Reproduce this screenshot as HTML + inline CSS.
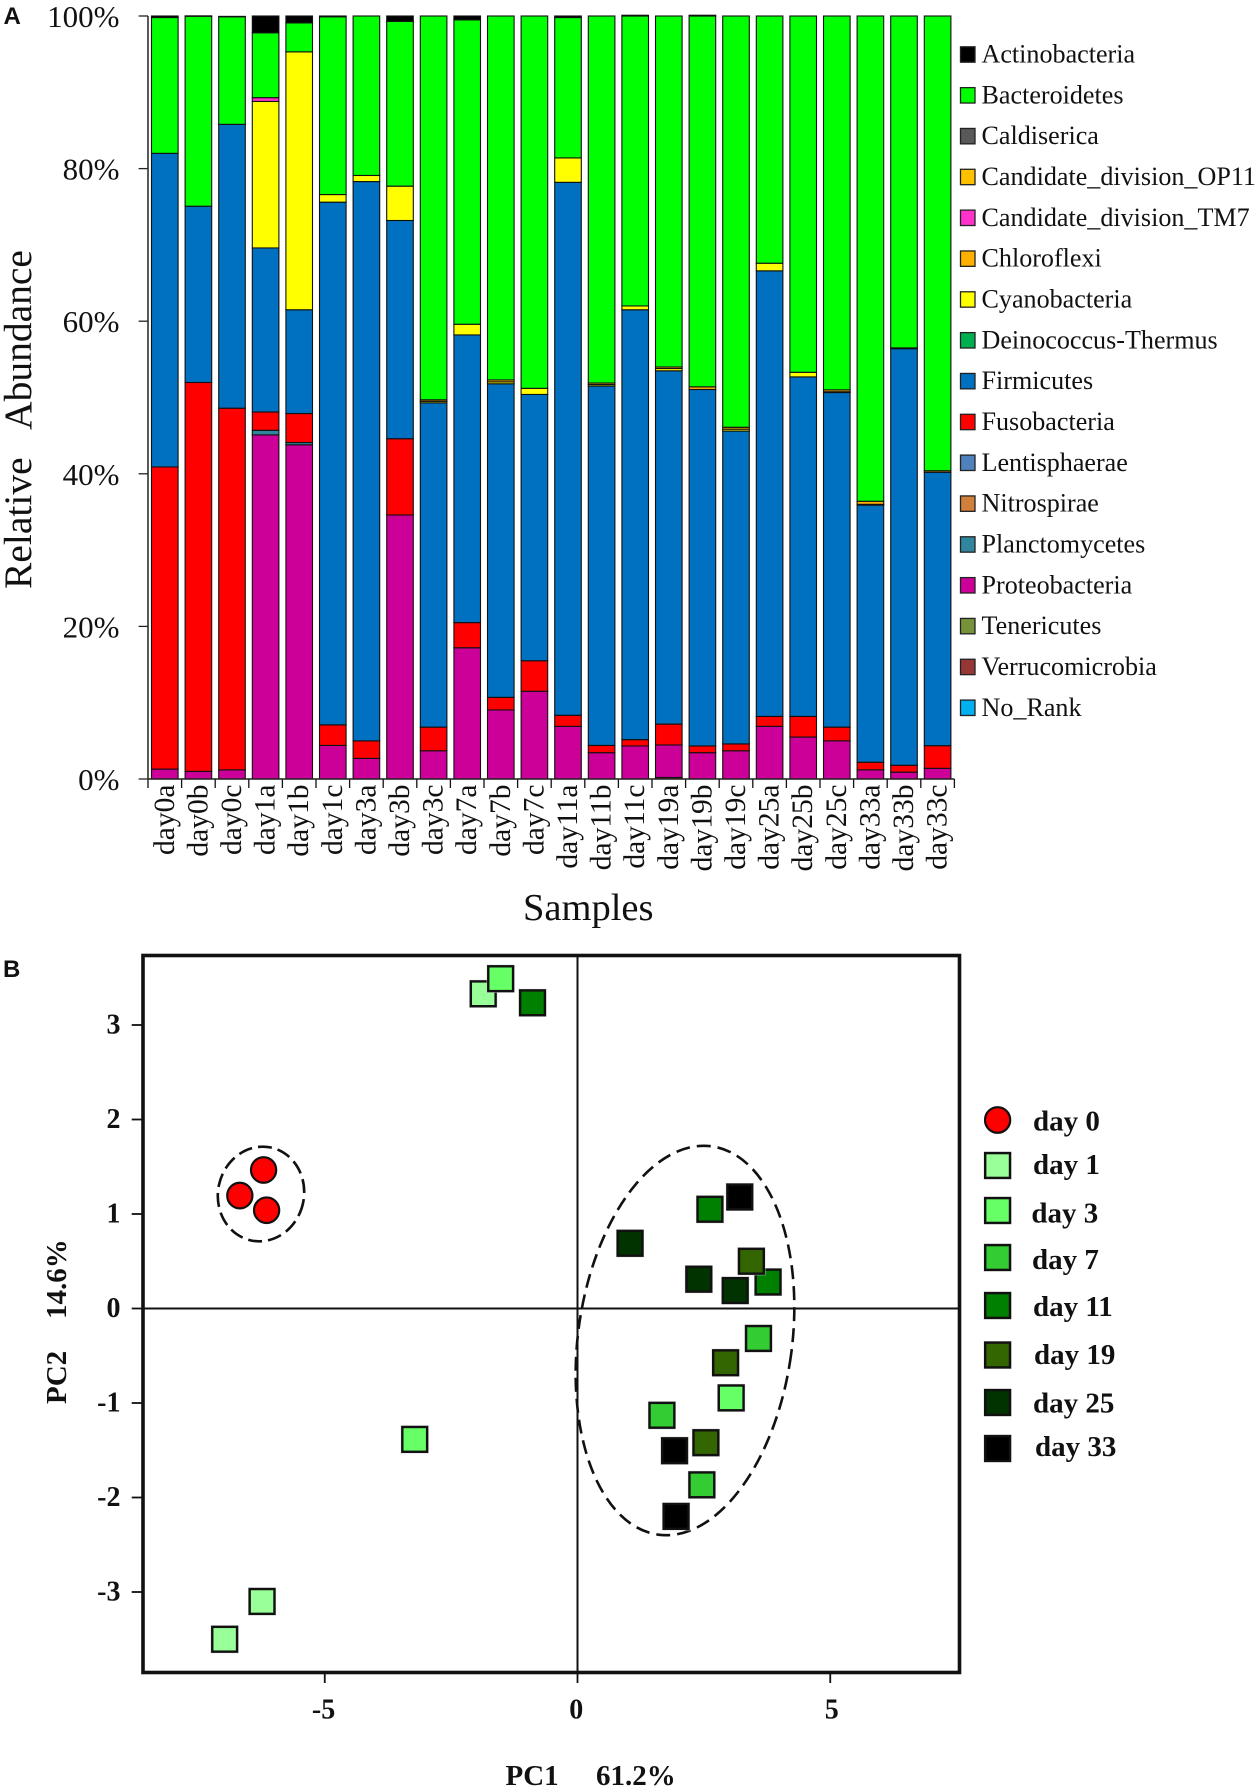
<!DOCTYPE html>
<html lang="en">
<head>
<meta charset="utf-8">
<title>Relative abundance and PCA</title>
<style>
html,body{margin:0;padding:0;background:#fff;}
svg{display:block;}
text{font-family:"Liberation Serif","Times New Roman",serif;fill:#111;}
.bold{font-weight:bold;}
</style>
</head>
<body>
<svg id="figure" xmlns="http://www.w3.org/2000/svg" width="1260" height="1791" viewBox="0 0 1260 1791">
  <rect width="1260" height="1791" fill="#fff"/>
  <text x="3.5" y="24" style="font-family:'Liberation Sans',sans-serif;font-weight:bold;font-size:24px">A</text>
  <text x="3" y="977" style="font-family:'Liberation Sans',sans-serif;font-weight:bold;font-size:24px">B</text>
  <g id="barChart"></g>
  <text transform="translate(31,589) rotate(-90)" font-size="39.5" xml:space="preserve" style="white-space:pre">Relative   Abundance</text>
  <text x="523" y="920" font-size="38.5">Samples</text>
  <g id="pcaChart"></g>
  <text class="bold" x="505.5" y="1785" font-size="29">PC1</text>
  <text class="bold" x="596" y="1785" font-size="29">61.2%</text>
  <text class="bold" transform="translate(66,1404) rotate(-90)" font-size="29">PC2</text>
  <text class="bold" transform="translate(66,1319) rotate(-90)" font-size="29">14.6%</text>
</svg>
<script>
// ---------- Panel A data ----------
const samples = ["day0a","day0b","day0c","day1a","day1b","day1c","day3a","day3b","day3c","day7a","day7b","day7c","day11a","day11b","day11c","day19a","day19b","day19c","day25a","day25b","day25c","day33a","day33b","day33c"];
const percentTicks = [0,20,40,60,80,100];
const actinobacteria = [0.2,0.05,0.05,2.2,0.9,0.1,0,0.7,0,0.5,0,0,0.2,0,0.1,0,0.1,0,0,0,0,0,0,0];
const bacteroidetes = [17.8,24.9,14.1,8.5,3.8,23.3,20.9,21.6,50.3,39.9,47.7,48.8,18.4,48.1,38.0,46.0,48.6,53.9,32.4,46.7,49.0,63.6,43.5,59.6];
const caldiserica = [0,0,0,0,0,0,0,0,0,0,0,0,0,0,0,0,0,0,0,0,0,0,0,0];
const candidateOP11 = [0,0,0,0,0,0,0,0,0,0,0,0,0,0,0,0,0,0,0,0,0,0,0,0];
const candidateTM7 = [0,0,0,0.5,0,0,0,0,0,0,0,0,0,0,0,0,0,0,0,0,0,0,0,0];
const chloroflexi = [0,0,0,0,0,0,0,0,0.2,0,0.25,0,0,0.2,0,0.2,0.35,0.25,0,0,0.25,0.4,0.1,0.2];
const cyanobacteria = [0,0,0,19.2,33.8,1.0,0.8,4.5,0.2,1.4,0.25,0.8,3.2,0.2,0.5,0.3,0,0.25,1.0,0.6,0.1,0.1,0,0];
const deinococcus = [0,0,0,0,0,0,0,0,0,0,0,0,0,0,0,0,0,0,0,0,0,0,0,0];
const firmicutes = [41.1,23.1,37.2,21.5,13.6,68.5,73.3,28.6,42.5,37.7,41.1,34.9,69.85,47.1,56.34,46.3,46.72,41.0,58.4,44.5,43.85,33.7,54.6,35.83];
const fusobacteria = [39.6,50.97,47.4,2.4,3.8,2.7,2.3,10.0,3.1,3.3,1.65,4.0,1.45,0.95,0.83,2.74,0.88,0.9,1.3,2.7,1.8,1.0,0.9,2.97];
const lentisphaerae = [0,0,0,0,0,0,0,0,0,0,0,0,0,0,0,0,0,0,0,0,0,0,0,0];
const nitrospirae = [0,0,0,0,0,0,0,0,0,0,0,0,0,0,0,0,0,0,0,0,0,0,0,0];
const planctomycetes = [0,0,0,0.6,0.3,0,0,0,0,0,0,0,0,0,0,0,0,0,0,0,0,0,0,0];
const proteobacteria = [1.3,1.0,1.2,45.1,43.8,4.4,2.7,34.6,3.7,17.2,9.05,11.5,6.9,3.45,4.33,4.26,3.45,3.7,6.9,5.5,5.0,1.2,0.9,1.4];
const tenericutes = [0,0,0,0,0,0,0,0,0,0,0,0,0,0,0,0,0,0,0,0,0,0,0,0];
const verrucomicrobia = [0,0,0,0,0,0,0,0,0,0,0,0,0,0,0,0.2,0,0,0,0,0,0,0,0];
const noRank = [0,0,0,0,0,0,0,0,0,0,0,0,0,0,0,0,0,0,0,0,0,0,0,0];
const phylumNames = ["Actinobacteria","Bacteroidetes","Caldiserica","Candidate_division_OP11","Candidate_division_TM7","Chloroflexi","Cyanobacteria","Deinococcus-Thermus","Firmicutes","Fusobacteria","Lentisphaerae","Nitrospirae","Planctomycetes","Proteobacteria","Tenericutes","Verrucomicrobia","No_Rank"];
const phylumValues = [actinobacteria,bacteroidetes,caldiserica,candidateOP11,candidateTM7,chloroflexi,cyanobacteria,deinococcus,firmicutes,fusobacteria,lentisphaerae,nitrospirae,planctomycetes,proteobacteria,tenericutes,verrucomicrobia,noRank];
const phylumColors = ["#000000","#00FF00","#595959","#FFC000","#FF33CC","#FFB000","#FFFF00","#00B050","#0070C0","#FF0000","#4F81BD","#D0803A","#31859C","#CC0099","#76933C","#953735","#00B0F0"];

// ---------- Panel B data ----------
const groupNames = ["day 0","day 1","day 3","day 7","day 11","day 19","day 25","day 33"];
const groupColors = ["#FF0000","#99FF99","#66FF66","#33CC33","#008000","#336600","#003300","#000000"];
const pc1Day0 = [-6.21,-6.68,-6.15];
const pc2Day0 = [1.466,1.195,1.04];
const pc1Day1 = [-1.865,-6.24,-6.98];
const pc2Day1 = [3.33,-3.10,-3.5];
const pc1Day3 = [-1.52,-3.22,3.04];
const pc2Day3 = [3.49,-1.385,-0.946];
const pc1Day7 = [3.58,1.67,2.46];
const pc2Day7 = [-0.317,-1.13,-1.866];
const pc1Day11 = [-0.89,2.62,3.77];
const pc2Day11 = [3.235,1.05,0.28];
const pc1Day19 = [3.44,2.93,2.54];
const pc2Day19 = [0.5,-0.574,-1.42];
const pc1Day25 = [1.04,2.40,3.12];
const pc2Day25 = [0.69,0.31,0.19];
const pc1Day33 = [3.21,1.92,1.95];
const pc2Day33 = [1.18,-1.505,-2.2];
const pc1Groups = [pc1Day0,pc1Day1,pc1Day3,pc1Day7,pc1Day11,pc1Day19,pc1Day25,pc1Day33];
const pc2Groups = [pc2Day0,pc2Day1,pc2Day3,pc2Day7,pc2Day11,pc2Day19,pc2Day25,pc2Day33];
const pc1Ticks = [-5,0,5];
const pc2Ticks = [-3,-2,-1,0,1,2,3];

// ---------- helpers ----------
const NS = "http://www.w3.org/2000/svg";
function mk(parent, tag, attrs, txt){
  const el = document.createElementNS(NS, tag);
  for (const k in attrs) el.setAttribute(k, attrs[k]);
  if (txt !== undefined) el.textContent = txt;
  parent.appendChild(el);
  return el;
}
function slug(s){ return s.toLowerCase().replace(/[^a-z0-9]+/g,'-'); }

// ---------- Panel A ----------
const barRoot = document.getElementById('barChart');
const yPct = v => 779 - v * 7.63;
const bandLeft = i => 148 + i * 33.6;
const barW = 26.6;

for (let i = 0; i < samples.length; i++){
  let cum = 0;
  for (let s = phylumNames.length - 1; s >= 0; s--){
    const v = phylumValues[s][i];
    if (!v) continue;
    const top = yPct(cum + v), bottom = yPct(cum);
    const seg = mk(barRoot, 'rect', {x: bandLeft(i) + 3.5, y: top, width: barW, height: Math.max(bottom - top, 0.3), fill: phylumColors[s], stroke: '#111', 'stroke-width': 1.1});
    
    
    cum += v;
  }
  const lab = mk(barRoot, 'text', {transform: 'translate(' + (bandLeft(i) + 16.8 + 9) + ',784.5) rotate(-90)', 'text-anchor': 'end', 'font-size': 29.5}, samples[i]);
  
  
}
for (let i = 0; i <= samples.length; i++){
  const t = mk(barRoot, 'line', {x1: bandLeft(i), x2: bandLeft(i), y1: 779, y2: 788, stroke: '#111', 'stroke-width': 1.3});
  
  
}
const axisY = mk(barRoot, 'line', {x1: 148, x2: 148, y1: yPct(100), y2: 779, stroke: '#222', 'stroke-width': 1.5});


const axisX = mk(barRoot, 'line', {x1: 148, x2: bandLeft(samples.length), y1: 779, y2: 779, stroke: '#222', 'stroke-width': 1.5});


percentTicks.forEach(function(p){
  const t = mk(barRoot, 'line', {x1: 138.6, x2: 148, y1: yPct(p), y2: yPct(p), stroke: '#222', 'stroke-width': 1.3});
  
  
  const l = mk(barRoot, 'text', {x: 119.5, y: yPct(p) + 11, 'text-anchor': 'end', 'font-size': 31}, p + '%');
  
  
});
phylumNames.forEach(function(n, i){
  const cy = 54.5 + i * 40.83;
  const sw = mk(barRoot, 'rect', {x: 960.5, y: cy - 7.7, width: 14.5, height: 15.4, fill: phylumColors[i], stroke: '#222', 'stroke-width': 1.3});
  
  
  const t = mk(barRoot, 'text', {x: 981.5, y: cy + 8, 'font-size': 26.1}, n);
  
  
});

// ---------- Panel B ----------
const pca = document.getElementById('pcaChart');
const xPC = v => 577.5 + v * 50.55;
const yPC = v => 1308.5 - v * 94.5;

const hAxis = mk(pca, 'line', {x1: 143, x2: 959, y1: yPC(0), y2: yPC(0), stroke: '#111', 'stroke-width': 2});


const vAxis = mk(pca, 'line', {x1: xPC(0), x2: xPC(0), y1: 955.5, y2: 1673, stroke: '#111', 'stroke-width': 2});



const ell1 = mk(pca, 'ellipse', {cx: 261, cy: 1194, rx: 43, ry: 47.5, transform: 'rotate(12 261 1194)', fill: 'none', stroke: '#111', 'stroke-width': 2.6, 'stroke-dasharray': '14 6'});


const ell2 = mk(pca, 'ellipse', {cx: 685, cy: 1340.5, rx: 107, ry: 196, transform: 'rotate(7.86 685 1340.5)', fill: 'none', stroke: '#111', 'stroke-width': 2.6, 'stroke-dasharray': '14 7'});



function marker(cx, cy, g){
  let m;
  if (g === 0){
    m = mk(pca, 'ellipse', {cx: cx, cy: cy, rx: 12.6, ry: 12.8, fill: groupColors[g], stroke: '#111', 'stroke-width': 2.2});
  } else {
    mk(pca, 'rect', {x: cx - 14, y: cy - 14, width: 28, height: 28, fill: '#cfcfcf'});
    m = mk(pca, 'rect', {x: cx - 12.4, y: cy - 12.4, width: 24.8, height: 24.8, fill: groupColors[g], stroke: '#111', 'stroke-width': 2.4});
  }
  return m;
}
groupNames.forEach(function(n, g){
  pc1Groups[g].forEach(function(v, i){
    const m = marker(xPC(v), yPC(pc2Groups[g][i]), g);
    
    
  });
});

const frame = mk(pca, 'rect', {x: 143, y: 955.5, width: 816.5, height: 717, fill: 'none', stroke: '#111', 'stroke-width': 3.6});



pc2Ticks.forEach(function(v){
  const t = mk(pca, 'line', {x1: 131.7, x2: 143, y1: yPC(v), y2: yPC(v), stroke: '#111', 'stroke-width': 1.8});
  
  
  const l = mk(pca, 'text', {x: 120.5, y: yPC(v) + 8.5, 'text-anchor': 'end', 'font-size': 28, 'font-weight': 'bold'}, String(v));
  
  
});
pc1Ticks.forEach(function(v){
  const t = mk(pca, 'line', {x1: xPC(v), x2: xPC(v), y1: 1673, y2: 1683, stroke: '#111', 'stroke-width': 1.8});
  
  
  const l = mk(pca, 'text', {x: xPC(v) + 1 * (v === 5 ? 1.5 : -1.2), y: 1718.5, 'text-anchor': 'middle', 'font-size': 28, 'font-weight': 'bold'}, String(v));
  
  
});

const legendCY = [1120,1165.5,1210.5,1257.5,1305.5,1355,1402.5,1448.5];
const legendTX = [1033,1033,1031.4,1032,1033,1034,1033,1035];
const legendBase = [1130.4,1174,1222.4,1269,1316,1364,1412.5,1456];
groupNames.forEach(function(n, g){
  const s = marker(997.6, legendCY[g], g);
  
  
  const t = mk(pca, 'text', {x: legendTX[g], y: legendBase[g], 'font-size': 29, 'font-weight': 'bold'}, n);
  
  
});
</script>
</body>
</html>
